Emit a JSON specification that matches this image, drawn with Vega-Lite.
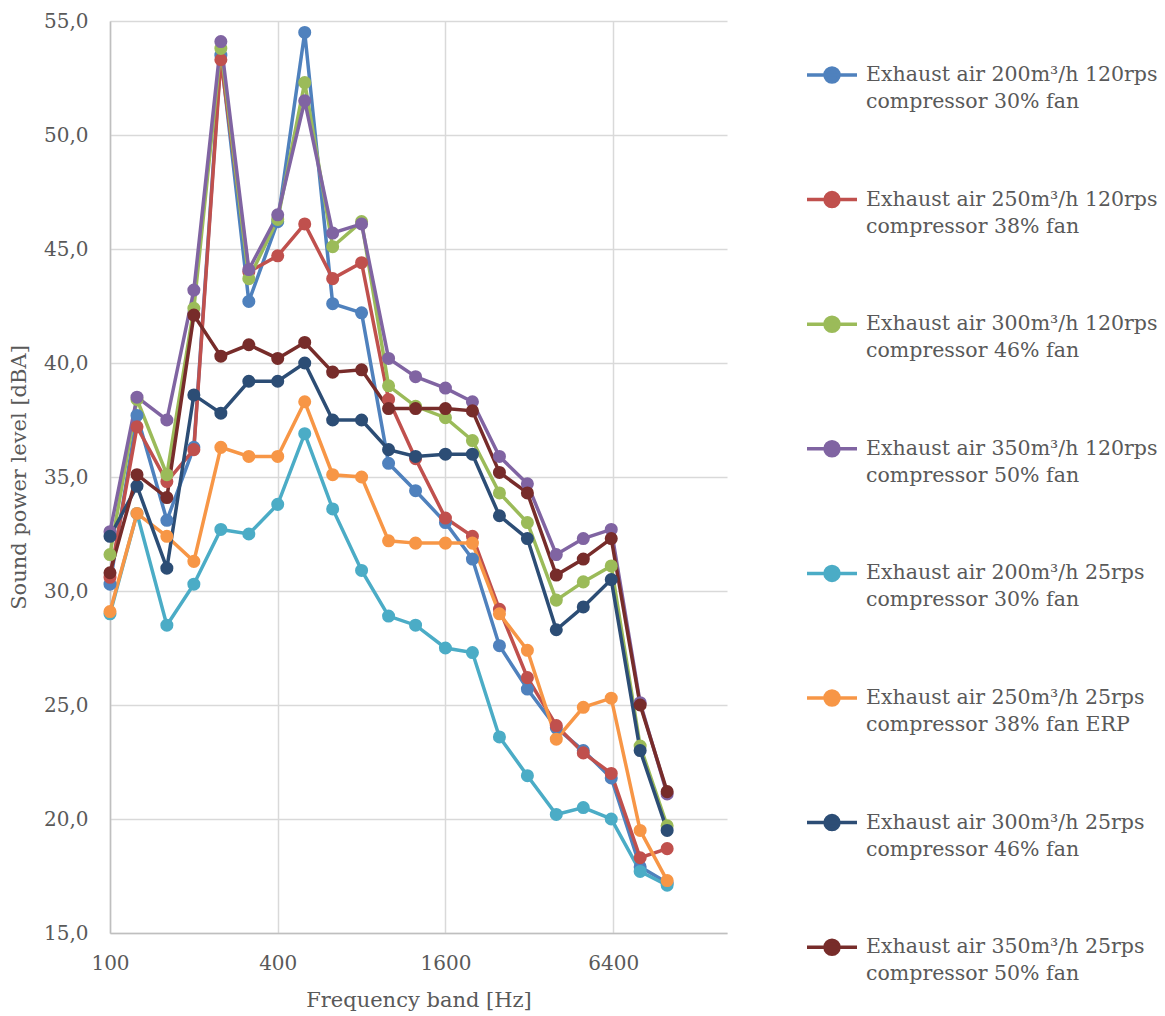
{
  "$schema": "https://vega.github.io/schema/vega-lite/v6.json",
  "width": 617,
  "height": 912,
  "autosize": {"type": "none"},
  "padding": {"left": 110, "top": 21, "right": 438, "bottom": 83},
  "background": "white",
  "config": {
    "view": {"stroke": null},
    "font": "DejaVu Serif"
  },
  "data": {
    "values": [
      {"s":"Exhaust air 200m³/h 120rps|compressor 30% fan","f":100,"v":30.3},
      {"s":"Exhaust air 200m³/h 120rps|compressor 30% fan","f":125,"v":37.7},
      {"s":"Exhaust air 200m³/h 120rps|compressor 30% fan","f":160,"v":33.1},
      {"s":"Exhaust air 200m³/h 120rps|compressor 30% fan","f":200,"v":36.3},
      {"s":"Exhaust air 200m³/h 120rps|compressor 30% fan","f":250,"v":53.5},
      {"s":"Exhaust air 200m³/h 120rps|compressor 30% fan","f":315,"v":42.7},
      {"s":"Exhaust air 200m³/h 120rps|compressor 30% fan","f":400,"v":46.2},
      {"s":"Exhaust air 200m³/h 120rps|compressor 30% fan","f":500,"v":54.5},
      {"s":"Exhaust air 200m³/h 120rps|compressor 30% fan","f":630,"v":42.6},
      {"s":"Exhaust air 200m³/h 120rps|compressor 30% fan","f":800,"v":42.2},
      {"s":"Exhaust air 200m³/h 120rps|compressor 30% fan","f":1000,"v":35.6},
      {"s":"Exhaust air 200m³/h 120rps|compressor 30% fan","f":1250,"v":34.4},
      {"s":"Exhaust air 200m³/h 120rps|compressor 30% fan","f":1600,"v":33.0},
      {"s":"Exhaust air 200m³/h 120rps|compressor 30% fan","f":2000,"v":31.4},
      {"s":"Exhaust air 200m³/h 120rps|compressor 30% fan","f":2500,"v":27.6},
      {"s":"Exhaust air 200m³/h 120rps|compressor 30% fan","f":3150,"v":25.7},
      {"s":"Exhaust air 200m³/h 120rps|compressor 30% fan","f":4000,"v":24.0},
      {"s":"Exhaust air 200m³/h 120rps|compressor 30% fan","f":5000,"v":23.0},
      {"s":"Exhaust air 200m³/h 120rps|compressor 30% fan","f":6300,"v":21.8},
      {"s":"Exhaust air 200m³/h 120rps|compressor 30% fan","f":8000,"v":17.9},
      {"s":"Exhaust air 200m³/h 120rps|compressor 30% fan","f":10000,"v":17.2},
      {"s":"Exhaust air 250m³/h 120rps|compressor 38% fan","f":100,"v":30.6},
      {"s":"Exhaust air 250m³/h 120rps|compressor 38% fan","f":125,"v":37.2},
      {"s":"Exhaust air 250m³/h 120rps|compressor 38% fan","f":160,"v":34.8},
      {"s":"Exhaust air 250m³/h 120rps|compressor 38% fan","f":200,"v":36.2},
      {"s":"Exhaust air 250m³/h 120rps|compressor 38% fan","f":250,"v":53.3},
      {"s":"Exhaust air 250m³/h 120rps|compressor 38% fan","f":315,"v":44.0},
      {"s":"Exhaust air 250m³/h 120rps|compressor 38% fan","f":400,"v":44.7},
      {"s":"Exhaust air 250m³/h 120rps|compressor 38% fan","f":500,"v":46.1},
      {"s":"Exhaust air 250m³/h 120rps|compressor 38% fan","f":630,"v":43.7},
      {"s":"Exhaust air 250m³/h 120rps|compressor 38% fan","f":800,"v":44.4},
      {"s":"Exhaust air 250m³/h 120rps|compressor 38% fan","f":1000,"v":38.4},
      {"s":"Exhaust air 250m³/h 120rps|compressor 38% fan","f":1250,"v":35.8},
      {"s":"Exhaust air 250m³/h 120rps|compressor 38% fan","f":1600,"v":33.2},
      {"s":"Exhaust air 250m³/h 120rps|compressor 38% fan","f":2000,"v":32.4},
      {"s":"Exhaust air 250m³/h 120rps|compressor 38% fan","f":2500,"v":29.2},
      {"s":"Exhaust air 250m³/h 120rps|compressor 38% fan","f":3150,"v":26.2},
      {"s":"Exhaust air 250m³/h 120rps|compressor 38% fan","f":4000,"v":24.1},
      {"s":"Exhaust air 250m³/h 120rps|compressor 38% fan","f":5000,"v":22.9},
      {"s":"Exhaust air 250m³/h 120rps|compressor 38% fan","f":6300,"v":22.0},
      {"s":"Exhaust air 250m³/h 120rps|compressor 38% fan","f":8000,"v":18.3},
      {"s":"Exhaust air 250m³/h 120rps|compressor 38% fan","f":10000,"v":18.7},
      {"s":"Exhaust air 300m³/h 120rps|compressor 46% fan","f":100,"v":31.6},
      {"s":"Exhaust air 300m³/h 120rps|compressor 46% fan","f":125,"v":38.4},
      {"s":"Exhaust air 300m³/h 120rps|compressor 46% fan","f":160,"v":35.1},
      {"s":"Exhaust air 300m³/h 120rps|compressor 46% fan","f":200,"v":42.4},
      {"s":"Exhaust air 300m³/h 120rps|compressor 46% fan","f":250,"v":53.8},
      {"s":"Exhaust air 300m³/h 120rps|compressor 46% fan","f":315,"v":43.7},
      {"s":"Exhaust air 300m³/h 120rps|compressor 46% fan","f":400,"v":46.3},
      {"s":"Exhaust air 300m³/h 120rps|compressor 46% fan","f":500,"v":52.3},
      {"s":"Exhaust air 300m³/h 120rps|compressor 46% fan","f":630,"v":45.1},
      {"s":"Exhaust air 300m³/h 120rps|compressor 46% fan","f":800,"v":46.2},
      {"s":"Exhaust air 300m³/h 120rps|compressor 46% fan","f":1000,"v":39.0},
      {"s":"Exhaust air 300m³/h 120rps|compressor 46% fan","f":1250,"v":38.1},
      {"s":"Exhaust air 300m³/h 120rps|compressor 46% fan","f":1600,"v":37.6},
      {"s":"Exhaust air 300m³/h 120rps|compressor 46% fan","f":2000,"v":36.6},
      {"s":"Exhaust air 300m³/h 120rps|compressor 46% fan","f":2500,"v":34.3},
      {"s":"Exhaust air 300m³/h 120rps|compressor 46% fan","f":3150,"v":33.0},
      {"s":"Exhaust air 300m³/h 120rps|compressor 46% fan","f":4000,"v":29.6},
      {"s":"Exhaust air 300m³/h 120rps|compressor 46% fan","f":5000,"v":30.4},
      {"s":"Exhaust air 300m³/h 120rps|compressor 46% fan","f":6300,"v":31.1},
      {"s":"Exhaust air 300m³/h 120rps|compressor 46% fan","f":8000,"v":23.2},
      {"s":"Exhaust air 300m³/h 120rps|compressor 46% fan","f":10000,"v":19.7},
      {"s":"Exhaust air 350m³/h 120rps|compressor 50% fan","f":100,"v":32.6},
      {"s":"Exhaust air 350m³/h 120rps|compressor 50% fan","f":125,"v":38.5},
      {"s":"Exhaust air 350m³/h 120rps|compressor 50% fan","f":160,"v":37.5},
      {"s":"Exhaust air 350m³/h 120rps|compressor 50% fan","f":200,"v":43.2},
      {"s":"Exhaust air 350m³/h 120rps|compressor 50% fan","f":250,"v":54.1},
      {"s":"Exhaust air 350m³/h 120rps|compressor 50% fan","f":315,"v":44.1},
      {"s":"Exhaust air 350m³/h 120rps|compressor 50% fan","f":400,"v":46.5},
      {"s":"Exhaust air 350m³/h 120rps|compressor 50% fan","f":500,"v":51.5},
      {"s":"Exhaust air 350m³/h 120rps|compressor 50% fan","f":630,"v":45.7},
      {"s":"Exhaust air 350m³/h 120rps|compressor 50% fan","f":800,"v":46.1},
      {"s":"Exhaust air 350m³/h 120rps|compressor 50% fan","f":1000,"v":40.2},
      {"s":"Exhaust air 350m³/h 120rps|compressor 50% fan","f":1250,"v":39.4},
      {"s":"Exhaust air 350m³/h 120rps|compressor 50% fan","f":1600,"v":38.9},
      {"s":"Exhaust air 350m³/h 120rps|compressor 50% fan","f":2000,"v":38.3},
      {"s":"Exhaust air 350m³/h 120rps|compressor 50% fan","f":2500,"v":35.9},
      {"s":"Exhaust air 350m³/h 120rps|compressor 50% fan","f":3150,"v":34.7},
      {"s":"Exhaust air 350m³/h 120rps|compressor 50% fan","f":4000,"v":31.6},
      {"s":"Exhaust air 350m³/h 120rps|compressor 50% fan","f":5000,"v":32.3},
      {"s":"Exhaust air 350m³/h 120rps|compressor 50% fan","f":6300,"v":32.7},
      {"s":"Exhaust air 350m³/h 120rps|compressor 50% fan","f":8000,"v":25.1},
      {"s":"Exhaust air 350m³/h 120rps|compressor 50% fan","f":10000,"v":21.1},
      {"s":"Exhaust air 200m³/h 25rps|compressor 30% fan","f":100,"v":29.0},
      {"s":"Exhaust air 200m³/h 25rps|compressor 30% fan","f":125,"v":33.4},
      {"s":"Exhaust air 200m³/h 25rps|compressor 30% fan","f":160,"v":28.5},
      {"s":"Exhaust air 200m³/h 25rps|compressor 30% fan","f":200,"v":30.3},
      {"s":"Exhaust air 200m³/h 25rps|compressor 30% fan","f":250,"v":32.7},
      {"s":"Exhaust air 200m³/h 25rps|compressor 30% fan","f":315,"v":32.5},
      {"s":"Exhaust air 200m³/h 25rps|compressor 30% fan","f":400,"v":33.8},
      {"s":"Exhaust air 200m³/h 25rps|compressor 30% fan","f":500,"v":36.9},
      {"s":"Exhaust air 200m³/h 25rps|compressor 30% fan","f":630,"v":33.6},
      {"s":"Exhaust air 200m³/h 25rps|compressor 30% fan","f":800,"v":30.9},
      {"s":"Exhaust air 200m³/h 25rps|compressor 30% fan","f":1000,"v":28.9},
      {"s":"Exhaust air 200m³/h 25rps|compressor 30% fan","f":1250,"v":28.5},
      {"s":"Exhaust air 200m³/h 25rps|compressor 30% fan","f":1600,"v":27.5},
      {"s":"Exhaust air 200m³/h 25rps|compressor 30% fan","f":2000,"v":27.3},
      {"s":"Exhaust air 200m³/h 25rps|compressor 30% fan","f":2500,"v":23.6},
      {"s":"Exhaust air 200m³/h 25rps|compressor 30% fan","f":3150,"v":21.9},
      {"s":"Exhaust air 200m³/h 25rps|compressor 30% fan","f":4000,"v":20.2},
      {"s":"Exhaust air 200m³/h 25rps|compressor 30% fan","f":5000,"v":20.5},
      {"s":"Exhaust air 200m³/h 25rps|compressor 30% fan","f":6300,"v":20.0},
      {"s":"Exhaust air 200m³/h 25rps|compressor 30% fan","f":8000,"v":17.7},
      {"s":"Exhaust air 200m³/h 25rps|compressor 30% fan","f":10000,"v":17.1},
      {"s":"Exhaust air 250m³/h 25rps|compressor 38% fan ERP","f":100,"v":29.1},
      {"s":"Exhaust air 250m³/h 25rps|compressor 38% fan ERP","f":125,"v":33.4},
      {"s":"Exhaust air 250m³/h 25rps|compressor 38% fan ERP","f":160,"v":32.4},
      {"s":"Exhaust air 250m³/h 25rps|compressor 38% fan ERP","f":200,"v":31.3},
      {"s":"Exhaust air 250m³/h 25rps|compressor 38% fan ERP","f":250,"v":36.3},
      {"s":"Exhaust air 250m³/h 25rps|compressor 38% fan ERP","f":315,"v":35.9},
      {"s":"Exhaust air 250m³/h 25rps|compressor 38% fan ERP","f":400,"v":35.9},
      {"s":"Exhaust air 250m³/h 25rps|compressor 38% fan ERP","f":500,"v":38.3},
      {"s":"Exhaust air 250m³/h 25rps|compressor 38% fan ERP","f":630,"v":35.1},
      {"s":"Exhaust air 250m³/h 25rps|compressor 38% fan ERP","f":800,"v":35.0},
      {"s":"Exhaust air 250m³/h 25rps|compressor 38% fan ERP","f":1000,"v":32.2},
      {"s":"Exhaust air 250m³/h 25rps|compressor 38% fan ERP","f":1250,"v":32.1},
      {"s":"Exhaust air 250m³/h 25rps|compressor 38% fan ERP","f":1600,"v":32.1},
      {"s":"Exhaust air 250m³/h 25rps|compressor 38% fan ERP","f":2000,"v":32.1},
      {"s":"Exhaust air 250m³/h 25rps|compressor 38% fan ERP","f":2500,"v":29.0},
      {"s":"Exhaust air 250m³/h 25rps|compressor 38% fan ERP","f":3150,"v":27.4},
      {"s":"Exhaust air 250m³/h 25rps|compressor 38% fan ERP","f":4000,"v":23.5},
      {"s":"Exhaust air 250m³/h 25rps|compressor 38% fan ERP","f":5000,"v":24.9},
      {"s":"Exhaust air 250m³/h 25rps|compressor 38% fan ERP","f":6300,"v":25.3},
      {"s":"Exhaust air 250m³/h 25rps|compressor 38% fan ERP","f":8000,"v":19.5},
      {"s":"Exhaust air 250m³/h 25rps|compressor 38% fan ERP","f":10000,"v":17.3},
      {"s":"Exhaust air 300m³/h 25rps|compressor 46% fan","f":100,"v":32.4},
      {"s":"Exhaust air 300m³/h 25rps|compressor 46% fan","f":125,"v":34.6},
      {"s":"Exhaust air 300m³/h 25rps|compressor 46% fan","f":160,"v":31.0},
      {"s":"Exhaust air 300m³/h 25rps|compressor 46% fan","f":200,"v":38.6},
      {"s":"Exhaust air 300m³/h 25rps|compressor 46% fan","f":250,"v":37.8},
      {"s":"Exhaust air 300m³/h 25rps|compressor 46% fan","f":315,"v":39.2},
      {"s":"Exhaust air 300m³/h 25rps|compressor 46% fan","f":400,"v":39.2},
      {"s":"Exhaust air 300m³/h 25rps|compressor 46% fan","f":500,"v":40.0},
      {"s":"Exhaust air 300m³/h 25rps|compressor 46% fan","f":630,"v":37.5},
      {"s":"Exhaust air 300m³/h 25rps|compressor 46% fan","f":800,"v":37.5},
      {"s":"Exhaust air 300m³/h 25rps|compressor 46% fan","f":1000,"v":36.2},
      {"s":"Exhaust air 300m³/h 25rps|compressor 46% fan","f":1250,"v":35.9},
      {"s":"Exhaust air 300m³/h 25rps|compressor 46% fan","f":1600,"v":36.0},
      {"s":"Exhaust air 300m³/h 25rps|compressor 46% fan","f":2000,"v":36.0},
      {"s":"Exhaust air 300m³/h 25rps|compressor 46% fan","f":2500,"v":33.3},
      {"s":"Exhaust air 300m³/h 25rps|compressor 46% fan","f":3150,"v":32.3},
      {"s":"Exhaust air 300m³/h 25rps|compressor 46% fan","f":4000,"v":28.3},
      {"s":"Exhaust air 300m³/h 25rps|compressor 46% fan","f":5000,"v":29.3},
      {"s":"Exhaust air 300m³/h 25rps|compressor 46% fan","f":6300,"v":30.5},
      {"s":"Exhaust air 300m³/h 25rps|compressor 46% fan","f":8000,"v":23.0},
      {"s":"Exhaust air 300m³/h 25rps|compressor 46% fan","f":10000,"v":19.5},
      {"s":"Exhaust air 350m³/h 25rps|compressor 50% fan","f":100,"v":30.8},
      {"s":"Exhaust air 350m³/h 25rps|compressor 50% fan","f":125,"v":35.1},
      {"s":"Exhaust air 350m³/h 25rps|compressor 50% fan","f":160,"v":34.1},
      {"s":"Exhaust air 350m³/h 25rps|compressor 50% fan","f":200,"v":42.1},
      {"s":"Exhaust air 350m³/h 25rps|compressor 50% fan","f":250,"v":40.3},
      {"s":"Exhaust air 350m³/h 25rps|compressor 50% fan","f":315,"v":40.8},
      {"s":"Exhaust air 350m³/h 25rps|compressor 50% fan","f":400,"v":40.2},
      {"s":"Exhaust air 350m³/h 25rps|compressor 50% fan","f":500,"v":40.9},
      {"s":"Exhaust air 350m³/h 25rps|compressor 50% fan","f":630,"v":39.6},
      {"s":"Exhaust air 350m³/h 25rps|compressor 50% fan","f":800,"v":39.7},
      {"s":"Exhaust air 350m³/h 25rps|compressor 50% fan","f":1000,"v":38.0},
      {"s":"Exhaust air 350m³/h 25rps|compressor 50% fan","f":1250,"v":38.0},
      {"s":"Exhaust air 350m³/h 25rps|compressor 50% fan","f":1600,"v":38.0},
      {"s":"Exhaust air 350m³/h 25rps|compressor 50% fan","f":2000,"v":37.9},
      {"s":"Exhaust air 350m³/h 25rps|compressor 50% fan","f":2500,"v":35.2},
      {"s":"Exhaust air 350m³/h 25rps|compressor 50% fan","f":3150,"v":34.3},
      {"s":"Exhaust air 350m³/h 25rps|compressor 50% fan","f":4000,"v":30.7},
      {"s":"Exhaust air 350m³/h 25rps|compressor 50% fan","f":5000,"v":31.4},
      {"s":"Exhaust air 350m³/h 25rps|compressor 50% fan","f":6300,"v":32.3},
      {"s":"Exhaust air 350m³/h 25rps|compressor 50% fan","f":8000,"v":25.0},
      {"s":"Exhaust air 350m³/h 25rps|compressor 50% fan","f":10000,"v":21.2}
    ]
  },
  "encoding": {
    "x": {
      "field": "f", "type": "quantitative",
      "scale": {"type": "log", "base": 2, "domain": [100, 16400], "nice": false},
      "axis": {
        "values": [100, 400, 1600, 6400],
        "format": "d",
        "title": "Frequency band [Hz]",
        "grid": true, "gridColor": "#d9d9d9", "gridWidth": 1.5,
        "domainColor": "#bfbfbf", "domainWidth": 1.5,
        "ticks": false,
        "labelFont": "DejaVu Serif", "labelFontSize": 20, "labelColor": "#595959", "labelPadding": 20,
        "labelFlush": false,
        "titleFont": "DejaVu Serif", "titleFontSize": 21, "titleFontWeight": "normal", "titleColor": "#595959", "titlePadding": 16
      }
    },
    "y": {
      "field": "v", "type": "quantitative",
      "scale": {"domain": [15, 55], "nice": false, "zero": false},
      "axis": {
        "values": [15, 20, 25, 30, 35, 40, 45, 50, 55],
        "labelExpr": "replace(format(datum.value, '.1f'), '.', ',')",
        "title": "Sound power level [dBA]",
        "grid": true, "gridColor": "#d9d9d9", "gridWidth": 1.5,
        "domainColor": "#bfbfbf", "domainWidth": 1.5,
        "ticks": false,
        "labelFont": "DejaVu Serif", "labelFontSize": 20, "labelColor": "#595959", "labelPadding": 22,
        "titleFont": "DejaVu Serif", "titleFontSize": 21, "titleFontWeight": "normal", "titleColor": "#595959", "titlePadding": 14
      }
    },
    "color": {
      "field": "s", "type": "nominal",
      "scale": {
        "domain": [
          "Exhaust air 200m³/h 120rps|compressor 30% fan",
          "Exhaust air 250m³/h 120rps|compressor 38% fan",
          "Exhaust air 300m³/h 120rps|compressor 46% fan",
          "Exhaust air 350m³/h 120rps|compressor 50% fan",
          "Exhaust air 200m³/h 25rps|compressor 30% fan",
          "Exhaust air 250m³/h 25rps|compressor 38% fan ERP",
          "Exhaust air 300m³/h 25rps|compressor 46% fan",
          "Exhaust air 350m³/h 25rps|compressor 50% fan"
        ],
        "range": ["#4F81BD", "#C0504D", "#9BBB59", "#8064A2", "#4BACC6", "#F79646", "#2C4D75", "#772C2A"]
      },
      "legend": {
        "orient": "none", "legendX": 695, "legendY": 27,
        "title": null,
        "padding": 0,
        "symbolType": "M-1,0L1,0M0.28,0A0.28,0.28,0,1,1,-0.28,0A0.28,0.28,0,1,1,0.28,0Z",
        "symbolSize": 2500,
        "symbolStrokeWidth": 3.5,
        "labelExpr": "split(datum.label, '|')",
        "labelFont": "DejaVu Serif", "labelFontSize": 20.5, "labelColor": "#595959",
        "labelOffset": 7, "labelLimit": 400,
        "rowPadding": 59.6,
        "encode": {
          "symbols": {
            "update": {
              "fill": {"scale": "color", "field": "value"},
              "stroke": {"scale": "color", "field": "value"},
              "opacity": {"value": 1}
            }
          },
          "labels": {
            "update": {
              "lineHeight": {"value": 27}
            }
          }
        }
      }
    }
  },
  "layer": [
    {"mark": {"type": "line", "strokeWidth": 3.5}},
    {"mark": {"type": "point", "filled": true, "size": 170, "opacity": 1}}
  ]
}
